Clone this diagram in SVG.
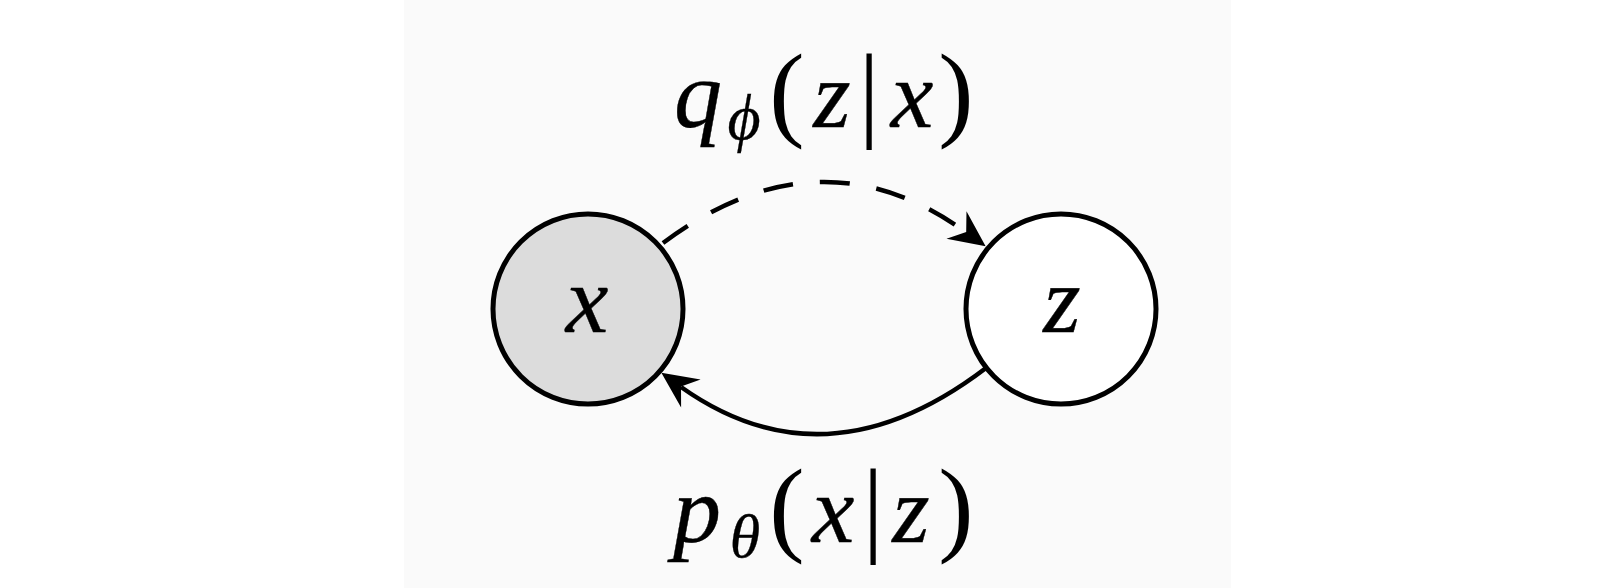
<svg xmlns="http://www.w3.org/2000/svg" width="1604" height="588" viewBox="0 0 1604 588">
<style>
.node{stroke:#000;stroke-width:5}
.var{font-family:"Liberation Serif","DejaVu Serif",serif;font-style:italic;font-size:96px;fill:#000;stroke:#000;stroke-width:0.4;text-anchor:middle}
.sub{font-family:"Liberation Serif","DejaVu Serif",serif;font-style:italic;fill:#000;stroke:#000;stroke-width:0.3;text-anchor:middle}
.par{font-family:"Liberation Serif","DejaVu Serif",serif;font-size:106px;fill:#000;text-anchor:middle}
.edge{fill:none;stroke:#000;stroke-width:4.5}
.head{fill:#000;stroke:none}
</style>
<defs>
<path id="arrowhead" d="M2,0 L-34,-17 L-22,0 L-34,17 Z"/>
</defs>
<rect x="0" y="0" width="1604" height="588" fill="#ffffff"/>
<rect x="404" y="0" width="827" height="588" fill="#fafafa"/>
<g id="connectors">
<path id="q-edge" class="edge" d="M663,243 Q820,126 967,233" stroke-dasharray="30 27"/>
<use class="head" href="#arrowhead" transform="translate(984,245) rotate(36)"/>
<path id="p-edge" class="edge" d="M986,368 Q826,490 681,387"/>
<use class="head" href="#arrowhead" transform="translate(663,374) rotate(215)"/>
</g>
<g id="node-x">
<circle class="node" cx="588" cy="309" r="95" fill="#dcdcdc"/>
<text class="var" x="587" y="332">x</text>
</g>
<g id="node-z">
<circle class="node" cx="1061" cy="309" r="95" fill="#ffffff"/>
<text class="var" x="1062" y="332">z</text>
</g>
<g id="label-q">
<text class="var" x="698" y="127">q</text>
<text class="sub" x="744" y="139" font-size="64">ϕ</text>
<text class="par" x="787" y="127">(</text>
<text class="var" x="832" y="127">z</text>
<text class="par" x="869" y="127">|</text>
<text class="var" x="912" y="127">x</text>
<text class="par" x="956" y="127">)</text>
</g>
<g id="label-p">
<text class="var" x="697" y="542">p</text>
<text class="sub" x="745" y="557" font-size="62">θ</text>
<text class="par" x="787" y="542">(</text>
<text class="var" x="833" y="542">x</text>
<text class="par" x="873" y="542">|</text>
<text class="var" x="911" y="542">z</text>
<text class="par" x="956" y="542">)</text>
</g>
</svg>
